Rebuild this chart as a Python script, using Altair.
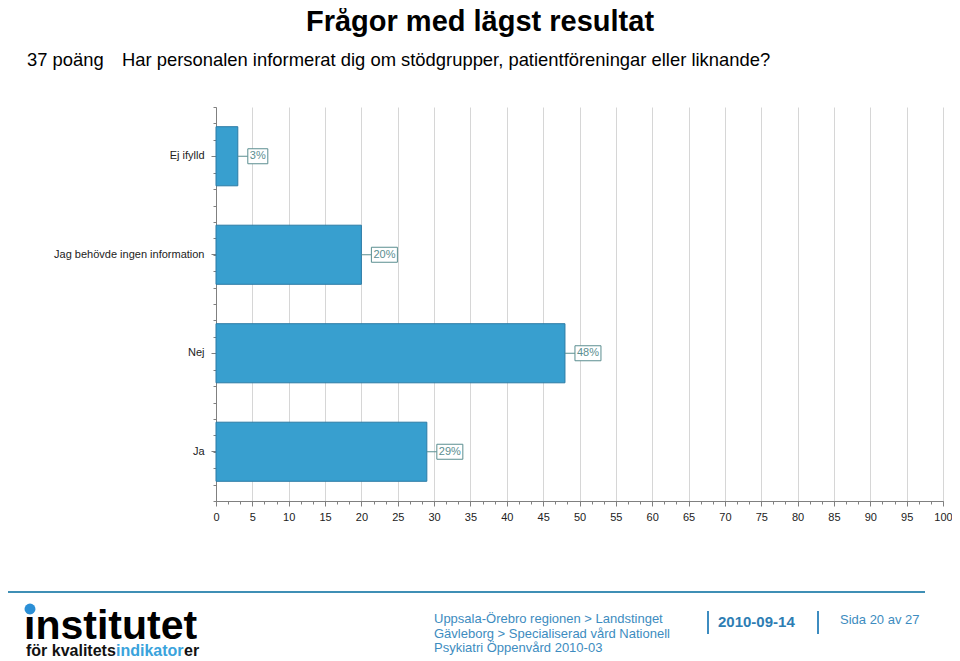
import altair as alt
import pandas as pd

# ---- data ----
categories = ["Ej ifylld", "Jag behövde ingen information", "Nej", "Ja"]
values = [3, 20, 48, 29]
labels = ["3%", "20%", "48%", "29%"]
x_ticks = list(range(0, 101, 5))
x_minor = [i * 5 / 3 for i in range(61)]
y_minor = list(range(25))

title_text = "Frågor med lägst resultat"
points_text = "37 poäng"
question_text = "Har personalen informerat dig om stödgrupper, patientföreningar eller liknande?"
footer_org = "Uppsala-Örebro regionen > Landstinget\nGävleborg > Specialiserad vård Nationell\nPsykiatri Öppenvård 2010-03"
footer_date = "2010-09-14"
footer_page = "Sida 20 av 27"
logo_big = "institutet"
logo_small = ["för kvalitets", "indikator", "er"]

FONT = "Liberation Sans"
OX, OY = 216, 107  # plot origin in page pixels
BAR = "#389fcf"
BAR_EDGE = "#2b7ba6"
LAB = "#5b8e90"
BLUE = "#3d8cc0"

df = pd.DataFrame({"cat": categories, "value": values, "label": labels})

yenc = alt.Y("cat:N", sort=categories,
             scale=alt.Scale(paddingInner=0.4, paddingOuter=0.2),
             axis=alt.Axis(title=None, tickSize=5, labelPadding=7, labelFont=FONT,
                           labelFontSize=11, labelColor="#222", domainColor="#808080",
                           tickColor="#808080", grid=False))
xscale = alt.Scale(domain=[0, 100], nice=False)
xaxis = alt.Axis(title=None, values=x_ticks, tickSize=5, labelPadding=5,
                 labelFont=FONT, labelFontSize=11, labelColor="#222",
                 domainColor="#808080", tickColor="#808080",
                 grid=True, gridColor="#d6d6d6", labelFlush=False)
xenc = alt.X("value:Q", scale=xscale, axis=xaxis)

bars = alt.Chart(df).mark_bar(color=BAR, stroke=BAR_EDGE, strokeWidth=1).encode(
    x=xenc, y=yenc)

connectors = alt.Chart(df).mark_rule(color=LAB, strokeWidth=1, x2Offset=10).encode(
    x=xenc, x2="value:Q", y=yenc)

box_short = alt.Chart(df).transform_filter("length(datum.label) == 2").mark_bar(
    size=15, fill="white", stroke=LAB, strokeWidth=1, xOffset=10, x2Offset=30).encode(
    x=xenc, x2="value:Q", y=yenc)
box_long = alt.Chart(df).transform_filter("length(datum.label) == 3").mark_bar(
    size=15, fill="white", stroke=LAB, strokeWidth=1, xOffset=10, x2Offset=36).encode(
    x=xenc, x2="value:Q", y=yenc)

label_text = alt.Chart(df).mark_text(align="left", dx=12, fontSize=11, font=FONT,
                                      color=LAB).encode(
    x=xenc, y=yenc, text="label:N")

main = alt.layer(bars, connectors, box_short, box_long, label_text)

minor_x = alt.Chart(pd.DataFrame({"v": [0, 100]})).mark_point(opacity=0).encode(
    x=alt.X("v:Q", scale=alt.Scale(domain=[0, 100], nice=False),
            axis=alt.Axis(values=x_minor, labels=False, grid=False, domain=False,
                          tickSize=3, tickColor="#808080", orient="bottom", title=None)))
minor_y = alt.Chart(pd.DataFrame({"v": [0, 24]})).mark_point(opacity=0).encode(
    y=alt.Y("v:Q", scale=alt.Scale(domain=[0, 24], nice=False),
            axis=alt.Axis(values=y_minor, labels=False, grid=False, domain=False,
                          tickSize=3, tickColor="#808080", orient="left", title=None)))


def txt(s, x, y, size, color, weight="normal", align="left", **kw):
    return alt.Chart(pd.DataFrame({"t": [s]})).mark_text(
        align=align, baseline="alphabetic", fontSize=size, font=FONT,
        fontWeight=weight, color=color, **kw).encode(
        x=alt.value(x - OX), y=alt.value(y - OY), text="t:N")


texts = [
    txt(title_text, 480, 31, 29, "#000", "bold", "center"),
    txt(points_text, 27, 66, 18.4, "#000"),
    txt(question_text, 122, 66, 18.4, "#000"),
    txt(logo_big, 24, 639, 41, "#000", "bold"),
    txt(logo_small[0], 26, 656, 16, "#111", "bold"),
    txt(logo_small[1], 116, 656, 16, "#3aa3dc", "bold"),
    txt(logo_small[2], 184, 656, 16, "#111", "bold"),
    txt(footer_org, 434, 623, 13, BLUE, lineBreak="\n", lineHeight=14.5),
    txt(footer_date, 718, 627, 15, "#2d7db3", "bold"),
    txt(footer_page, 840, 624, 13, BLUE),
]

dot = alt.Chart(pd.DataFrame({"t": [1]})).mark_point(
    filled=True, size=120, color="#2b8fd6", opacity=1).encode(
    x=alt.value(30 - OX), y=alt.value(609 - OY))

hline = alt.Chart(pd.DataFrame({"t": [1]})).mark_rule(color="#3f8fb5", strokeWidth=2).encode(
    x=alt.value(0 - OX), x2=alt.value(925 - OX), y=alt.value(592 - OY))
vbars = [alt.Chart(pd.DataFrame({"t": [1]})).mark_rule(color=BLUE, strokeWidth=2).encode(
    x=alt.value(xx - OX), y=alt.value(611 - OY), y2=alt.value(634 - OY)) for xx in (708, 818)]

chart = alt.layer(main, minor_x, minor_y, *texts, dot, hline, *vbars).resolve_scale(
    x="independent", y="independent").resolve_axis(
    x="independent", y="independent").properties(
    width=727, height=394,
    padding={"left": 208, "top": 99, "right": 9, "bottom": 160},
    autosize=alt.AutoSizeParams(type="none"),
    background="white",
).configure_view(stroke=None)

chart.save("out.html", embed_options={"renderer": "svg", "actions": False})
